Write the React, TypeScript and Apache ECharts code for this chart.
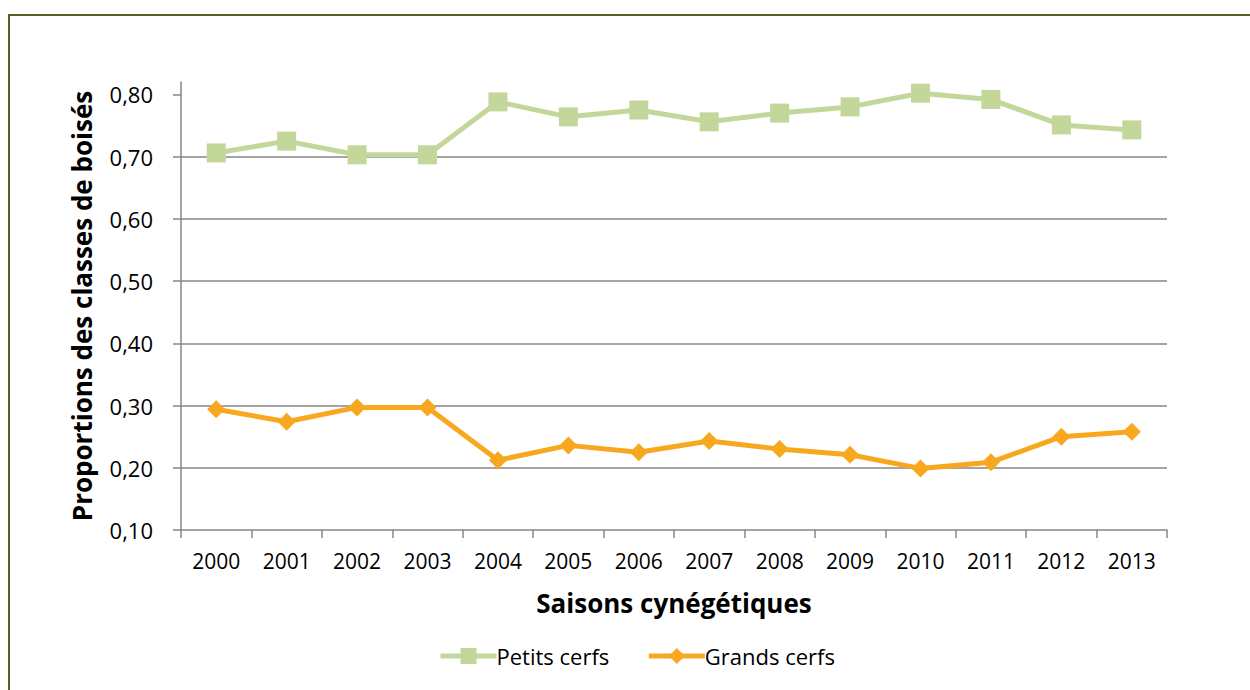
import React, { useEffect, useRef } from "react";
import * as echarts from "echarts";

const years = ["2000", "2001", "2002", "2003", "2004", "2005", "2006", "2007", "2008", "2009", "2010", "2011", "2012", "2013"];
const petitsCerfs = [0.706, 0.725, 0.703, 0.703, 0.788, 0.764, 0.775, 0.756, 0.77, 0.78, 0.802, 0.792, 0.751, 0.743];
const grandsCerfs = [0.294, 0.274, 0.297, 0.297, 0.212, 0.236, 0.225, 0.243, 0.23, 0.221, 0.199, 0.209, 0.25, 0.258];
const yTicks = [0.1, 0.2, 0.3, 0.4, 0.5, 0.6, 0.7, 0.8];

const FONT = "'Open Sans', sans-serif";
const GREEN = "#C4D79B";
const ORANGE = "#F7A81E";

export default function App() {
  const ref = useRef<HTMLDivElement>(null);
  useEffect(() => {
    if (!ref.current) return;
    const chart = echarts.init(ref.current, undefined, { renderer: "svg" });
    chart.setOption({
      animation: false,
      backgroundColor: "#ffffff",
      textStyle: { fontFamily: FONT },
      graphic: [
        {
          type: "rect",
          shape: { x: 9, y: 15, width: 1300, height: 700 },
          style: { fill: "none", stroke: "#4F6228", lineWidth: 2 },
          silent: true,
        },
      ],
      grid: { left: 181, right: 83, top: 82, bottom: 160, containLabel: false },
      legend: {
        top: 645,
        left: 438,
        padding: 0,
        itemWidth: 56,
        itemHeight: 20,
        itemGap: 37,
        lineStyle: { width: 5 },
        textStyle: { fontFamily: FONT, fontSize: 22, color: "#000", padding: [0, 0, 0, -5] },
        data: ["Petits cerfs", "Grands cerfs"],
      },
      xAxis: {
        type: "category",
        data: years,
        boundaryGap: true,
        name: "Saisons cynégétiques",
        nameLocation: "middle",
        nameGap: 60,
        nameTextStyle: { fontFamily: FONT, fontSize: 26, fontWeight: "bold", color: "#000" },
        axisLine: { show: true, lineStyle: { color: "#868686", width: 1.5 } },
        axisTick: { show: true, interval: 0, length: 8, lineStyle: { color: "#868686", width: 1.5 } },
        axisLabel: { interval: 0, margin: 20, fontFamily: FONT, fontSize: 21, color: "#000" },
        splitLine: { show: false },
      },
      yAxis: {
        type: "value",
        min: 0.1,
        max: 0.82,
        interval: 0.1,
        name: "Proportions des classes de boisés",
        nameLocation: "middle",
        nameGap: 86,
        nameTextStyle: { fontFamily: FONT, fontSize: 26, fontWeight: "bold", color: "#000" },
        axisLine: { show: true, lineStyle: { color: "#868686", width: 1.5 } },
        axisTick: { show: true, length: 8, customValues: yTicks, lineStyle: { color: "#868686", width: 1.5 } },
        axisLabel: {
          customValues: yTicks,
          margin: 28,
          fontFamily: FONT,
          fontSize: 22,
          color: "#000",
          formatter: (v: number) => v.toFixed(2).replace(".", ","),
        },
        splitLine: { show: true, showMaxLine: false, showMinLine: false, lineStyle: { color: "#868686", width: 1.5 } },
      },
      series: [
        {
          name: "Petits cerfs",
          type: "line",
          data: petitsCerfs,
          symbol: "rect",
          symbolSize: 19,
          itemStyle: { color: GREEN },
          lineStyle: { color: GREEN, width: 5 },
        },
        {
          name: "Grands cerfs",
          type: "line",
          data: grandsCerfs,
          symbol: "diamond",
          symbolSize: 18,
          itemStyle: { color: ORANGE },
          lineStyle: { color: ORANGE, width: 5 },
        },
      ],
    });
    return () => chart.dispose();
  }, []);
  return (
    <div
      ref={ref}
      style={{ position: "fixed", left: 0, top: 0, width: 1250, height: 690 }}
    />
  );
}
